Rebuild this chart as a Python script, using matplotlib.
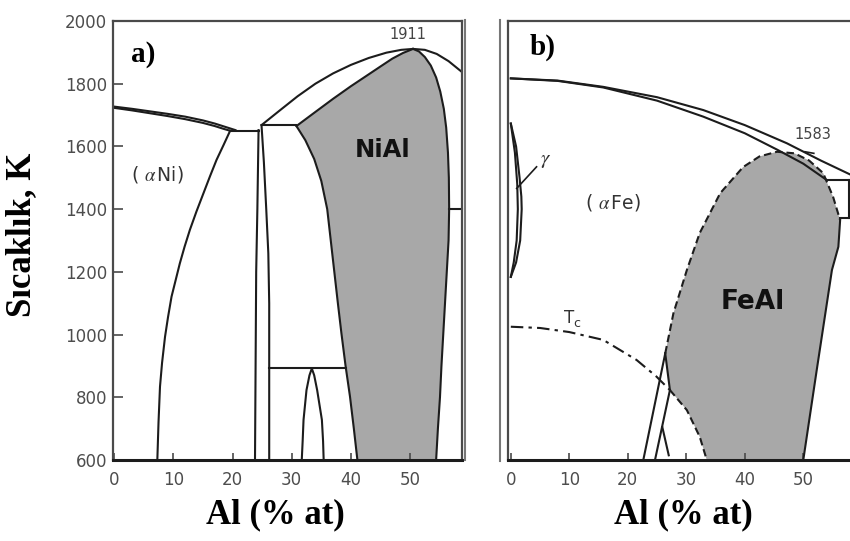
import matplotlib.pyplot as plt
from matplotlib.lines import Line2D

plt.rcParams['font.family'] = ['DejaVu Sans']
plt.rcParams['mathtext.fontset'] = 'stix'

# ---------------- Ni-Al (left panel) ----------------
ni_ticks_x = [0, 10, 20, 30, 40, 50]
ni_ticks_y = [600, 800, 1000, 1200, 1400, 1600, 1800, 2000]

# liquidus and solidus on the Ni-rich side
ni_liq_x = [0, 3, 6, 9, 12, 15, 17, 19, 20.5]
ni_liq_y = [1727, 1720, 1712, 1704, 1695, 1683, 1673, 1661, 1652]
ni_sol_x = [0, 3, 6, 9, 12, 15, 17, 18.5, 19.6]
ni_sol_y = [1723, 1715, 1706, 1697, 1687, 1675, 1665, 1656, 1650]

# eutectic line
ni_eut_x = [19.6, 24.4]
ni_eut_y = [1650, 1650]

# (alpha Ni) solvus
ni_solvus_x = [19.6, 18.5, 17.3, 16.2, 15.1, 13.9, 12.8, 11.9, 11.1, 10.4, 9.7, 9.1, 8.6, 8.1, 7.75, 7.5, 7.3]
ni_solvus_y = [1650, 1605, 1557, 1505, 1451, 1392, 1334, 1280, 1227, 1174, 1121, 1055, 993, 910, 834, 720, 600]

# Ni3Al boundaries
ni3al_left_x = [24.4, 24.2, 24.0, 23.9, 23.8]
ni3al_left_y = [1652, 1400, 1200, 900, 600]
ni3al_right_x = [24.9, 25.3, 25.7, 26.05, 26.2, 26.2]
ni3al_right_y = [1668, 1550, 1400, 1259, 1100, 600]

# peritectic line
ni_per_x = [24.9, 30.8]
ni_per_y = [1668, 1668]

# liquidus on the Al-rich side with the congruent maximum
ni_peak = 1911
ni_liq2_x = [24.9, 28, 31, 34, 37, 40, 43, 46, 48.5, 50.5, 52.5, 54.5, 56.5, 58.72]
ni_liq2_y = [1668, 1715, 1760, 1800, 1833, 1860, 1882, 1899, 1908, ni_peak, 1908, 1895, 1872, 1838]

# NiAl phase field
nial_top_x = [30.8, 34, 37, 40, 42.7, 45, 47, 48.8, 50.5]
nial_top_y = [1665, 1710, 1752, 1792, 1826, 1855, 1880, 1898, ni_peak]
nial_right_x = [50.5, 51.5, 52.5, 53.5, 54.4, 55.1, 55.7, 56.1, 56.4, 56.55, 56.6,
                56.5, 56.2, 55.9, 55.6, 55.3, 55.05, 54.7, 54.4]
nial_right_y = [ni_peak, 1903, 1885, 1858, 1820, 1775, 1720, 1660, 1580, 1500, 1400,
                1300, 1200, 1100, 1000, 900, 800, 700, 600]
nial_left_x = [30.8, 32.3, 33.8, 35.0, 36.0, 36.6, 37.2, 37.8, 38.4, 39.1, 39.85, 40.5, 41.1]
nial_left_y = [1665, 1620, 1560, 1490, 1400, 1300, 1200, 1100, 1004, 900, 802, 700, 600]

ni_h1400_x = [56.6, 58.72]
ni_h1400_y = [1400, 1400]
ni_h892_x = [26.2, 39.2]
ni_h892_y = [892, 892]

# Ni5Al3 dome
ni5al3_x = [31.7, 31.85, 32.0, 32.5, 33.0, 33.4, 33.8, 34.3, 35.1, 35.3, 35.4]
ni5al3_y = [600, 660, 728, 823, 870, 892, 870, 823, 728, 660, 600]

# ---------------- Fe-Al (right panel) ----------------
fe_ticks_x = [0, 10, 20, 30, 40, 50]

fe_liq_x = [0, 8, 15.8, 25, 32.9, 40, 47.2, 53, 58.3]
fe_liq_y = [1817, 1810, 1790, 1757, 1716, 1668, 1610, 1555, 1508]
fe_sol_x = [0, 8, 15.8, 25, 32.9, 40, 45.5, 50, 54.0]
fe_sol_y = [1817, 1809, 1788, 1746, 1695, 1642, 1590, 1545, 1493]

fe_box_top_x = [54.0, 58.3]
fe_box_top_y = [1493, 1493]
fe_box_bot_x = [56.3, 58.3]
fe_box_bot_y = [1371, 1371]
fe_box_side_x = [57.9, 57.9]
fe_box_side_y = [1371, 1493]

# gamma loop
fe_gam_out_x = [0, 0.9, 1.5, 1.8, 1.86, 1.6, 0.9, 0]
fe_gam_out_y = [1673, 1600, 1500, 1440, 1400, 1300, 1230, 1184]
fe_gam_in_x = [0, 0.7, 1.1, 1.2, 1.0, 0.5, 0]
fe_gam_in_y = [1673, 1580, 1480, 1400, 1300, 1230, 1184]

# FeAl (B2) field
fe_peak = 1583
feal_top_x = [26.4, 27.8, 30.1, 32.3, 35.8, 39.7, 42.5, 45.5, 48.5, 51.0, 53.4, 55.1, 56.3]
feal_top_y = [940, 1068, 1206, 1324, 1451, 1534, 1568, fe_peak, 1578, 1555, 1515, 1439, 1365]
feal_right_x = [56.3, 56.0, 54.9, 52.3, 50.0]
feal_right_y = [1365, 1280, 1206, 887, 600]

# Fe3Al lines
fe3al_a_x = [22.65, 26.4]
fe3al_a_y = [600, 940]
fe3al_b_x = [26.4, 27.2]
fe3al_b_y = [940, 823]
fe3al_c_x = [24.65, 27.2]
fe3al_c_y = [600, 823]
fe3al_d_x = [25.9, 27.0]
fe3al_d_y = [705, 615]

# Curie temperature
tc_x = [0, 5, 10, 15.8, 21.5, 24.9, 27.2]
tc_y = [1025, 1021, 1008, 983, 919, 866, 823]
tc_low_x = [27.2, 30.1, 32.3, 33.5]
tc_low_y = [823, 759, 674, 600]


ink = '#1c1c1c'
frame = '#4a4a4a'
shade = '#a8a8a8'
tick_col = '#4d4d4d'
lw = 1.5
dash = (0, (3.6, 1.9))
dashdot = (0, (6, 2.5, 1.6, 2.5))

fig = plt.figure(figsize=(8.5, 5.41), dpi=100)
W, H = 850, 541

ax_a = fig.add_axes([112.7 / W, 1 - 460 / H, (461.7 - 112.7) / W, (460 - 21) / H])
ax_b = fig.add_axes([508.3 / W, 1 - 460 / H, (853 - 508.3) / W, (460 - 21) / H])


def style(ax):
    for side in ['left', 'right', 'top']:
        ax.spines[side].set_color(frame)
        ax.spines[side].set_linewidth(1.6)
    ax.spines['bottom'].set_color(ink)
    ax.spines['bottom'].set_linewidth(2.2)
    ax.tick_params(axis='x', direction='in', length=5, width=1.2, color=frame,
                   labelsize=12, labelcolor=tick_col, pad=8)
    ax.set_ylim(600, 2000)


# Left panel
ax = ax_a
ax.set_xlim(-0.24, 58.72)
style(ax)
ax.set_xticks(ni_ticks_x)
ax.set_yticks(ni_ticks_y)
ax.tick_params(axis='y', direction='in', length=7, width=1.2, color=frame,
               labelsize=12, labelcolor=tick_col, pad=4)

# shaded NiAl region
poly_x = nial_left_x[::-1] + nial_top_x + nial_right_x
poly_y = nial_left_y[::-1] + nial_top_y + nial_right_y
ax.fill(poly_x, poly_y, color=shade, lw=0)

for xs, ys in [(ni_liq_x, ni_liq_y), (ni_sol_x, ni_sol_y), (ni_eut_x, ni_eut_y),
               (ni_solvus_x, ni_solvus_y), (ni3al_left_x, ni3al_left_y),
               (ni3al_right_x, ni3al_right_y), (ni_per_x, ni_per_y),
               (ni_liq2_x, ni_liq2_y), (nial_top_x, nial_top_y),
               (nial_right_x, nial_right_y), (nial_left_x, nial_left_y),
               (ni_h1400_x, ni_h1400_y), (ni_h892_x, ni_h892_y),
               (ni5al3_x, ni5al3_y)]:
    ax.plot(xs, ys, color=ink, lw=lw, solid_joinstyle='round', clip_on=False)

ax.text(7.25, 1509, r'( $\alpha\,$Ni)', fontsize=13.5, color='#333333', ha='center', va='center')
ax.text(45.4, 1589, 'NiAl', fontsize=17.5, fontweight='bold', color='#111111', ha='center', va='center')
ax.text(49.6, 1958, str(ni_peak), fontsize=10.5, color='#444444', ha='center', va='center')
ax.text(4.9, 1893, 'a)', fontsize=21, fontweight='bold', family='Liberation Serif',
        ha='center', va='center')

# Right panel
ax = ax_b
ax.set_xlim(-0.43, 58.5)
style(ax)
ax.spines['right'].set_visible(False)
ax.set_xticks(fe_ticks_x)
ax.set_yticks([])

poly_x = tc_low_x[::-1] + fe3al_b_x[::-1] + feal_top_x + feal_right_x
poly_y = tc_low_y[::-1] + fe3al_b_y[::-1] + feal_top_y + feal_right_y
ax.fill(poly_x, poly_y, color=shade, lw=0)

for xs, ys in [(fe_liq_x, fe_liq_y), (fe_sol_x, fe_sol_y),
               (fe_box_top_x, fe_box_top_y), (fe_box_bot_x, fe_box_bot_y),
               (fe_box_side_x, fe_box_side_y),
               (fe_gam_out_x, fe_gam_out_y), (fe_gam_in_x, fe_gam_in_y),
               (feal_right_x, feal_right_y),
               (fe3al_a_x, fe3al_a_y), (fe3al_b_x, fe3al_b_y),
               (fe3al_c_x, fe3al_c_y), (fe3al_d_x, fe3al_d_y)]:
    ax.plot(xs, ys, color=ink, lw=lw, solid_joinstyle='round')

ax.plot(feal_top_x, feal_top_y, color=ink, lw=lw, linestyle=dash)
ax.plot(tc_low_x, tc_low_y, color=ink, lw=lw, linestyle=dash)
ax.plot(tc_x, tc_y, color=ink, lw=lw, linestyle=dashdot)

ax.plot([4.4, 1.0], [1535, 1466], color=ink, lw=1.2)
ax.text(5.9, 1556, r'$\gamma$', fontsize=15, color='#333333', ha='center', va='center')
ax.text(17.5, 1420, r'( $\alpha\,$Fe)', fontsize=13.5, color='#333333', ha='center', va='center')
ax.text(41.4, 1104, 'FeAl', fontsize=19, fontweight='bold', color='#111111', ha='center', va='center')
ax.text(51.7, 1638, str(fe_peak), fontsize=10.5, color='#444444', ha='center', va='center')
ax.plot([50.3, 51.8], [1583, 1578], color=ink, lw=1.2)
# Curie temperature label, T with a small subscript c
ax.text(9.9, 1052, 'T', fontsize=12, color='#333333', ha='center', va='center')
ax.text(11.2, 1036, 'c', fontsize=9, color='#333333', ha='center', va='center')
ax.text(5.4, 1915, 'b)', fontsize=21, fontweight='bold', family='Liberation Serif',
        ha='center', va='center')

# outer frame edges between the two panels
fig.add_artist(Line2D([465.5 / W, 465.5 / W], [1 - 20 / H, 1 - 460 / H], color='#777777', lw=1.5))
fig.add_artist(Line2D([500 / W, 500 / W], [1 - 20 / H, 1 - 461 / H], color='#777777', lw=1.5))

# axis titles
fig.text(22 / W, 1 - 235 / H, 'Sıcaklık, K', rotation=90, ha='center', va='center',
         family='Liberation Serif', fontweight='bold', fontsize=25)
fig.text(275 / W, 1 - 515 / H, 'Al (% at)', ha='center', va='center',
         family='Liberation Serif', fontweight='bold', fontsize=25)
fig.text(683 / W, 1 - 515 / H, 'Al (% at)', ha='center', va='center',
         family='Liberation Serif', fontweight='bold', fontsize=25)

fig.savefig('out.png', dpi=100, facecolor='white')
